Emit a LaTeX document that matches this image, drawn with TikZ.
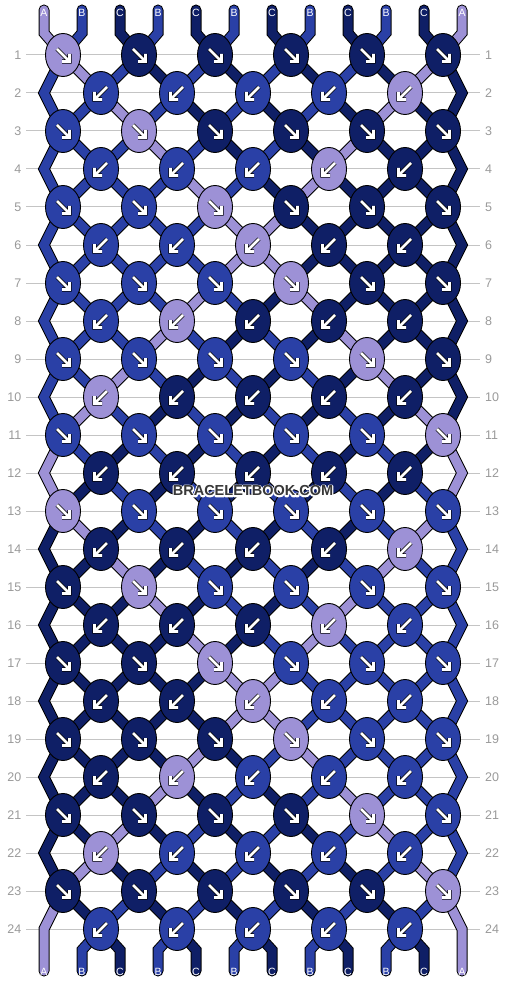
\documentclass[tikz,border=0pt]{standalone}
\usepackage{fontspec}
\setmainfont{Liberation Sans}
\usetikzlibrary{shapes.geometric}
\definecolor{colA}{HTML}{9D91D6}
\definecolor{colB}{HTML}{2A40A6}
\definecolor{colC}{HTML}{0F1F66}
\definecolor{gridgrey}{HTML}{C4C4C4}
\definecolor{labgrey}{HTML}{9A9A9A}
\definecolor{wmgrey}{HTML}{383838}
\tikzset{
  knot/.style={ellipse, draw=black, line width=0.9pt, minimum width=35pt, minimum height=43pt, inner sep=0pt},
  strout/.style={line width=11pt, draw=black, line join=miter, line cap=butt},
  strfill/.style={line width=9pt, line join=miter, line cap=butt},
  arrout/.style={line width=4.2pt, draw=black, line join=miter, line cap=butt},
  arrin/.style={line width=2.6pt, draw=white, line join=miter, line cap=butt},
  gridline/.style={line width=1pt, draw=gridgrey},
  rowlab/.style={font=\fontsize{12.5}{14}\selectfont, text=labgrey, inner sep=0pt},
  endlab/.style={font=\fontsize{10.5}{12}\selectfont, text=white, inner sep=0pt},
}
\def\strmode{0}
\newcommand\strseg[2]{%
  \ifnum\strmode=0 \draw[strout] #2;\else\draw[strfill, draw=col#1] #2;\fi}
\newcommand\strsegR[2]{%
  \ifnum\strmode=0 \draw[strout, line cap=round] #2;\else\draw[strfill, line cap=round, draw=col#1] #2;\fi}
\newcommand\knotSE[4]{%
  \node[knot, fill=col#2] (#1) at (#3,#4) {};
  \draw[arrout, shift={(#3,#4)}] (-6,-6) -- (5.5,5.5) (-1,6.5) -- (6.5,6.5) -- (6.5,-1);
  \draw[arrin, shift={(#3,#4)}] (-6,-6) -- (5.5,5.5) (-1,6.5) -- (6.5,6.5) -- (6.5,-1);}
\newcommand\knotSW[4]{%
  \node[knot, fill=col#2] (#1) at (#3,#4) {};
  \draw[arrout, shift={(#3,#4)}] (6,-6) -- (-5.5,5.5) (1,6.5) -- (-6.5,6.5) -- (-6.5,-1);
  \draw[arrin, shift={(#3,#4)}] (6,-6) -- (-5.5,5.5) (1,6.5) -- (-6.5,6.5) -- (-6.5,-1);}
\def\statelist{%
1/{A,B,C,B,C,B,C,B,C,B,C,A},
2/{B,A,B,C,B,C,B,C,B,C,A,C},
3/{B,B,A,B,C,B,C,B,C,A,C,C},
4/{B,B,B,A,B,C,B,C,A,C,C,C},
5/{B,B,B,B,A,B,C,A,C,C,C,C},
6/{B,B,B,B,B,A,A,C,C,C,C,C},
7/{B,B,B,B,B,A,A,C,C,C,C,C},
8/{B,B,B,B,A,B,C,A,C,C,C,C},
9/{B,B,B,A,B,C,B,C,A,C,C,C},
10/{B,B,A,B,C,B,C,B,C,A,C,C},
11/{B,A,B,C,B,C,B,C,B,C,A,C},
12/{A,B,C,B,C,B,C,B,C,B,C,A},
13/{A,C,B,C,B,C,B,C,B,C,B,A},
14/{C,A,C,B,C,B,C,B,C,B,A,B},
15/{C,C,A,C,B,C,B,C,B,A,B,B},
16/{C,C,C,A,C,B,C,B,A,B,B,B},
17/{C,C,C,C,A,C,B,A,B,B,B,B},
18/{C,C,C,C,C,A,A,B,B,B,B,B},
19/{C,C,C,C,C,A,A,B,B,B,B,B},
20/{C,C,C,C,A,C,B,A,B,B,B,B},
21/{C,C,C,A,C,B,C,B,A,B,B,B},
22/{C,C,A,C,B,C,B,C,B,A,B,B},
23/{C,A,C,B,C,B,C,B,C,B,A,B},
24/{A,C,B,C,B,C,B,C,B,C,B,A},
25/{A,B,C,B,C,B,C,B,C,B,C,A}}
\newcommand\drawstrings{%
\foreach \r/\st in \statelist {
  \foreach \c [count=\p from 0] in \st {
    \pgfmathtruncatemacro\ja{floor(\p/2)}
    \pgfmathtruncatemacro\jb{floor((\p-1)/2)}
    \pgfmathtruncatemacro\rp{\r-1}
    \pgfmathtruncatemacro\rpp{\r-2}
    \ifnum\r=1
      \strsegR{\c}{(t-\p) -- (tb-\p) -- (p-1-\ja)}
    \else\ifnum\r=25
      \ifnum\p=0 \strsegR{\c}{(p-23-0) -- (eL-24) -- (b-0)}%
      \else\ifnum\p=11 \strsegR{\c}{(p-23-5) -- (eR-24) -- (b-11)}%
      \else \strsegR{\c}{(p-24-\jb) -- (bb-\p) -- (b-\p)}%
      \fi\fi
    \else
      \ifnum\p=0
        \ifodd\r \strseg{\c}{(p-\rpp-0) -- (eL-\rp) -- (p-\r-0)}\fi
      \else\ifnum\p=11
        \ifodd\r \strseg{\c}{(p-\rpp-5) -- (eR-\rp) -- (p-\r-5)}\fi
      \else
        \ifodd\r
          \strseg{\c}{(p-\rp-\jb) -- (p-\r-\ja)}
        \else
          \strseg{\c}{(p-\rp-\ja) -- (p-\r-\jb)}
        \fi
      \fi\fi
    \fi\fi
  }
}}
\begin{document}
\begin{tikzpicture}[x=1pt,y=-1pt]
\useasboundingbox (0,0) rectangle (506,984);
\fill[white] (0,0) rectangle (506,984);
% coordinates
\foreach \r in {1,...,24} {
  \pgfmathsetmacro\yy{55+38*(\r-1)}
  \ifodd\r
    \foreach \j in {0,...,5} {\coordinate (p-\r-\j) at (63+76*\j,\yy);}
  \else
    \foreach \j in {0,...,4} {\coordinate (p-\r-\j) at (101+76*\j,\yy);}
    \coordinate (eL-\r) at (44,\yy);
    \coordinate (eR-\r) at (462,\yy);
  \fi
}
\foreach \p in {0,...,11} {
  \coordinate (t-\p) at (44+38*\p,10);
  \coordinate (tb-\p) at (44+38*\p,33);
  \coordinate (bb-\p) at (44+38*\p,950);
  \coordinate (b-\p) at (44+38*\p,971);
}
% row lines and labels
\foreach \r in {1,...,24} {
  \pgfmathsetmacro\yy{55+38*(\r-1)}
  \draw[gridline] (26,\yy) -- (480,\yy);
  \node[rowlab, anchor=east] (ll-\r) at (21.5,\yy) {\r};
  \node[rowlab, anchor=west] (rl-\r) at (485,\yy) {\r};
}
% strings: outlines then fills
\def\strmode{0}\drawstrings
\def\strmode{1}\drawstrings
% knots and end labels
\foreach \r/\st in \statelist {
  \pgfmathsetmacro\yy{55+38*(\r-1)}
  \foreach \c [count=\p from 0] in \st {
    \pgfmathsetmacro\xs{44+38*\p}
    \ifnum\r=1
      \node[endlab] (tl-\p) at (\xs,12.5) {\c};
    \fi
    \ifnum\r=25
      \node[endlab] (bl-\p) at (\xs,972) {\c};
    \else
      \ifodd\r
        \ifodd\p\else
          \pgfmathtruncatemacro\j{\p/2}
          \knotSE{k-\r-\j}{\c}{63+76*\j}{\yy}
        \fi
      \else
        \ifodd\p\else\ifnum\p>0
          \pgfmathtruncatemacro\j{\p/2-1}
          \knotSW{k-\r-\j}{\c}{101+76*\j}{\yy}
        \fi\fi
      \fi
    \fi
  }
}
\node[font=\bfseries\fontsize{14.5}{14}\selectfont, text=wmgrey, inner sep=0pt] (wm) at (253,491) {\rlap{\special{pdf:literal direct 1 Tr 2.6 w 1 1 1 RG 1 j}BRACELETBOOK.COM\special{pdf:literal direct 0 Tr}}BRACELETBOOK.COM};
\end{tikzpicture}
\end{document}
